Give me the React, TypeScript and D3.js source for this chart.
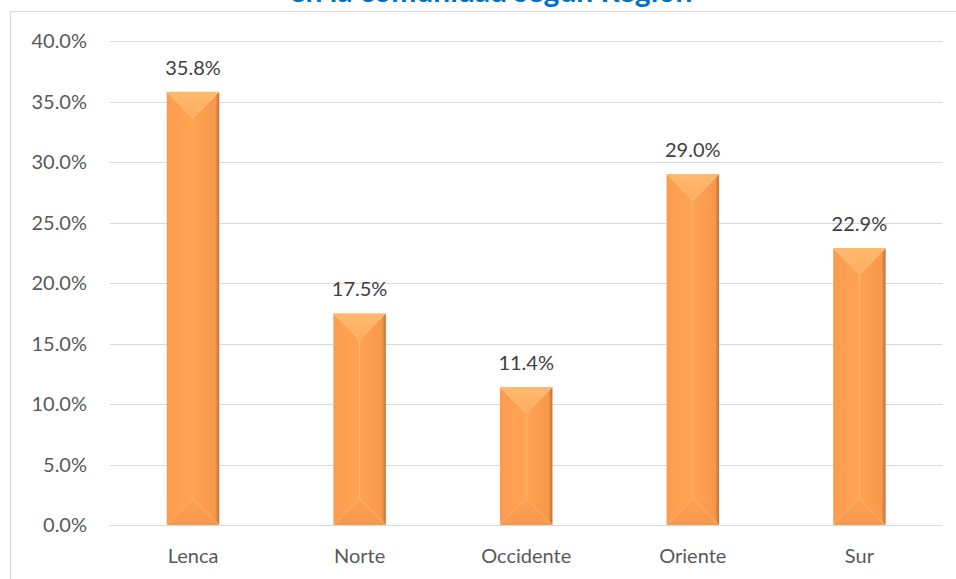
import React from "react";
import * as d3 from "d3";

const categories = ["Lenca", "Norte", "Occidente", "Oriente", "Sur"];
const values = [35.8, 17.5, 11.4, 29.0, 22.9];
const yTicks = [0, 5, 10, 15, 20, 25, 30, 35, 40];
const titleText = "en la comunidad según Región";

const W = 956;
const H = 579;
const M = { left: 109.7, right: 942.7, top: 41, bottom: 525 };
const FONT = "Lato, 'Open Sans', sans-serif";

export default function App() {
  const x = d3
    .scaleBand<string>()
    .domain(categories)
    .range([M.left, M.right])
    .paddingInner(0.685)
    .paddingOuter(0.3425);
  const y = d3.scaleLinear().domain([0, 40]).range([M.bottom, M.top]);
  const fmt = (v: number) => v.toFixed(1) + "%";

  return (
    <svg
      width={W}
      height={H}
      style={{ position: "absolute", left: 0, top: 0, background: "#fff" }}
    >
      <defs>
        <linearGradient id="gLeft" x1="0" x2="1" y1="0" y2="0">
          <stop offset="0" stopColor="#FB9C4E" />
          <stop offset="1" stopColor="#FFA453" />
        </linearGradient>
        <linearGradient id="gRight" x1="0" x2="1" y1="0" y2="0">
          <stop offset="0" stopColor="#FFA251" />
          <stop offset="0.85" stopColor="#F7984B" />
          <stop offset="1" stopColor="#C07035" />
        </linearGradient>
        <linearGradient id="gTop" x1="0" x2="0" y1="0" y2="1">
          <stop offset="0" stopColor="#FFBA70" />
          <stop offset="1" stopColor="#FFAC5E" />
        </linearGradient>
        <linearGradient id="gBot" x1="0" x2="0" y1="0" y2="1">
          <stop offset="0" stopColor="#FCA052" />
          <stop offset="1" stopColor="#F7994B" />
        </linearGradient>
      </defs>

      {/* chart border */}
      <line x1={10.5} x2={10.5} y1={11.5} y2={H} stroke="#D9D9D9" strokeWidth={1.2} />
      <line x1={10.5} x2={W} y1={11.5} y2={11.5} stroke="#D9D9D9" strokeWidth={1.2} />

      {/* title (cut off at top, as in the reference) */}
      <text
        x={491}
        y={2}
        textAnchor="middle"
        fontFamily={FONT}
        fontWeight={700}
        fontSize={30}
        fill="#0070C0"
      >
        {titleText}
      </text>

      {/* gridlines */}
      {yTicks.map((t) => (
        <line
          key={t}
          x1={M.left}
          x2={M.right}
          y1={Math.round(y(t)) + 0.5}
          y2={Math.round(y(t)) + 0.5}
          stroke="#D9D9D9"
          strokeWidth={1.2}
        />
      ))}

      {/* y tick labels */}
      {yTicks.map((t) => (
        <text
          key={"l" + t}
          x={87}
          y={y(t)}
          dy="0.36em"
          textAnchor="end"
          fontFamily={FONT}
          fontSize={20}
          fill="#595959"
        >
          {fmt(t)}
        </text>
      ))}

      {/* bars */}
      {categories.map((c, i) => {
        const x0 = x(c) ?? 0;
        const bw = x.bandwidth();
        const x1 = x0 + bw;
        const cx = x0 + bw / 2;
        const y0 = y(values[i]);
        const y1 = y(0);
        const d = Math.min(bw / 2, (y1 - y0) / 2);
        return (
          <g key={c}>
            <polygon
              points={`${x0},${y0} ${cx},${y0 + d} ${cx},${y1 - d} ${x0},${y1}`}
              fill="url(#gLeft)"
            />
            <polygon
              points={`${x1},${y0} ${cx},${y0 + d} ${cx},${y1 - d} ${x1},${y1}`}
              fill="url(#gRight)"
            />
            <polygon
              points={`${x0},${y0} ${x1},${y0} ${cx},${y0 + d}`}
              fill="url(#gTop)"
            />
            <polygon
              points={`${x0},${y1} ${x1},${y1} ${cx},${y1 - d}`}
              fill="url(#gBot)"
            />
            <text
              x={cx}
              y={y0 - 17}
              textAnchor="middle"
              fontFamily={FONT}
              fontSize={20}
              fill="#404040"
            >
              {fmt(values[i])}
            </text>
            <text
              x={cx}
              y={563}
              textAnchor="middle"
              fontFamily={FONT}
              fontSize={20}
              fill="#595959"
            >
              {c}
            </text>
          </g>
        );
      })}
    </svg>
  );
}
